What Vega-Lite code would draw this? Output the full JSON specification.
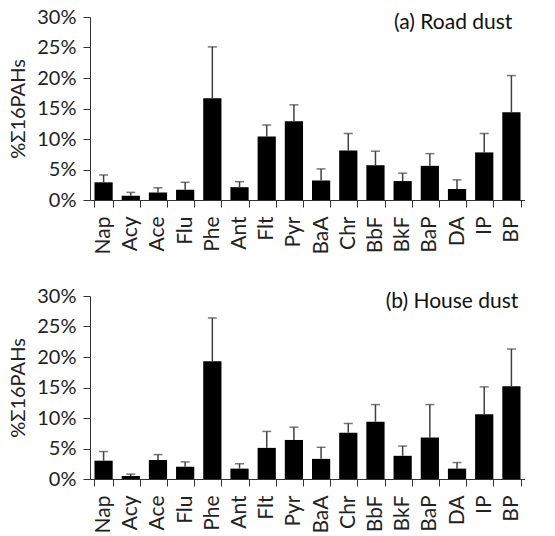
{
  "$schema": "https://vega.github.io/schema/vega-lite/v6.json",
  "padding": {"left": 8, "top": 7, "right": 0, "bottom": 0},
  "background": "white",
  "spacing": 31,
  "datasets": {
    "pahs": [
      {"panel": "a", "compound": "Nap", "value": 2.9, "upper": 4.1},
      {"panel": "a", "compound": "Acy", "value": 0.7, "upper": 1.25},
      {"panel": "a", "compound": "Ace", "value": 1.25, "upper": 2.0},
      {"panel": "a", "compound": "Flu", "value": 1.7, "upper": 2.9},
      {"panel": "a", "compound": "Phe", "value": 16.7, "upper": 25.1},
      {"panel": "a", "compound": "Ant", "value": 2.1, "upper": 3.0},
      {"panel": "a", "compound": "Flt", "value": 10.4, "upper": 12.3},
      {"panel": "a", "compound": "Pyr", "value": 12.9, "upper": 15.6},
      {"panel": "a", "compound": "BaA", "value": 3.2, "upper": 5.1},
      {"panel": "a", "compound": "Chr", "value": 8.1, "upper": 10.9},
      {"panel": "a", "compound": "BbF", "value": 5.7, "upper": 8.0},
      {"panel": "a", "compound": "BkF", "value": 3.1, "upper": 4.4},
      {"panel": "a", "compound": "BaP", "value": 5.6, "upper": 7.6},
      {"panel": "a", "compound": "DA", "value": 1.8, "upper": 3.3},
      {"panel": "a", "compound": "IP", "value": 7.8, "upper": 10.9},
      {"panel": "a", "compound": "BP", "value": 14.4, "upper": 20.4},
      {"panel": "b", "compound": "Nap", "value": 3.0, "upper": 4.5},
      {"panel": "b", "compound": "Acy", "value": 0.5, "upper": 0.8},
      {"panel": "b", "compound": "Ace", "value": 3.1, "upper": 4.0},
      {"panel": "b", "compound": "Flu", "value": 2.0, "upper": 2.8},
      {"panel": "b", "compound": "Phe", "value": 19.3, "upper": 26.4},
      {"panel": "b", "compound": "Ant", "value": 1.7, "upper": 2.5},
      {"panel": "b", "compound": "Flt", "value": 5.1, "upper": 7.8},
      {"panel": "b", "compound": "Pyr", "value": 6.4, "upper": 8.5},
      {"panel": "b", "compound": "BaA", "value": 3.3, "upper": 5.2},
      {"panel": "b", "compound": "Chr", "value": 7.6, "upper": 9.1},
      {"panel": "b", "compound": "BbF", "value": 9.4, "upper": 12.2},
      {"panel": "b", "compound": "BkF", "value": 3.8, "upper": 5.4},
      {"panel": "b", "compound": "BaP", "value": 6.8, "upper": 12.2},
      {"panel": "b", "compound": "DA", "value": 1.7, "upper": 2.7},
      {"panel": "b", "compound": "IP", "value": 10.6, "upper": 15.1},
      {"panel": "b", "compound": "BP", "value": 15.2, "upper": 21.3}
    ]
  },
  "vconcat": [
    {
      "width": 435,
      "height": 183,
      "encoding": {
        "x": {"field": "compound", "type": "nominal", "sort": null,
              "scale": {"paddingInner": 0.33, "paddingOuter": 0.165},
              "axis": {"title": null, "labelAngle": -90, "tickBand": "extent", "labelPadding": 9, "labelFontSize": 21}}
      },
      "layer": [
        {
          "data": {"name": "pahs"},
          "transform": [{"filter": "datum.panel == 'a'"}],
          "mark": {"type": "bar", "color": "black"},
          "encoding": {
            "y": {"field": "value", "type": "quantitative", "scale": {"domain": [0, 30]},
                  "axis": {"title": "%Σ16PAHs", "values": [0, 5, 10, 15, 20, 25, 30], "labelExpr": "datum.value + '%'", "labelOverlap": false}}
          }
        },
        {
          "data": {"name": "pahs"},
          "transform": [{"filter": "datum.panel == 'a'"}],
          "mark": {"type": "rule", "color": "#404040", "strokeWidth": 1.5},
          "encoding": {
            "y": {"field": "value", "type": "quantitative",
                  "axis": {"title": "%Σ16PAHs", "values": [0, 5, 10, 15, 20, 25, 30], "labelExpr": "datum.value + '%'", "labelOverlap": false}},
            "y2": {"field": "upper"}
          }
        },
        {
          "data": {"name": "pahs"},
          "transform": [{"filter": "datum.panel == 'a'"}],
          "mark": {"type": "tick", "orient": "horizontal", "size": 9, "thickness": 1.5, "color": "#404040"},
          "encoding": {
            "y": {"field": "upper", "type": "quantitative",
                  "axis": {"title": "%Σ16PAHs", "values": [0, 5, 10, 15, 20, 25, 30], "labelExpr": "datum.value + '%'", "labelOverlap": false}}
          }
        },
        {
          "data": {"values": [{"label": "(a) Road dust"}]},
          "mark": {"type": "text", "align": "right", "baseline": "middle", "fontSize": 21, "dx": 1, "color": "#111"},
          "encoding": {
            "x": {"datum": "BP"},
            "y": {"datum": 29, "type": "quantitative",
                  "axis": {"title": "%Σ16PAHs", "values": [0, 5, 10, 15, 20, 25, 30], "labelExpr": "datum.value + '%'", "labelOverlap": false}},
            "text": {"field": "label"}
          }
        }
      ]
    },
    {
      "width": 435,
      "height": 183,
      "encoding": {
        "x": {"field": "compound", "type": "nominal", "sort": null,
              "scale": {"paddingInner": 0.33, "paddingOuter": 0.165},
              "axis": {"title": null, "labelAngle": -90, "tickBand": "extent", "labelPadding": 9, "labelFontSize": 21}}
      },
      "layer": [
        {
          "data": {"name": "pahs"},
          "transform": [{"filter": "datum.panel == 'b'"}],
          "mark": {"type": "bar", "color": "black"},
          "encoding": {
            "y": {"field": "value", "type": "quantitative", "scale": {"domain": [0, 30]},
                  "axis": {"title": "%Σ16PAHs", "values": [0, 5, 10, 15, 20, 25, 30], "labelExpr": "datum.value + '%'", "labelOverlap": false}}
          }
        },
        {
          "data": {"name": "pahs"},
          "transform": [{"filter": "datum.panel == 'b'"}],
          "mark": {"type": "rule", "color": "#404040", "strokeWidth": 1.5},
          "encoding": {
            "y": {"field": "value", "type": "quantitative",
                  "axis": {"title": "%Σ16PAHs", "values": [0, 5, 10, 15, 20, 25, 30], "labelExpr": "datum.value + '%'", "labelOverlap": false}},
            "y2": {"field": "upper"}
          }
        },
        {
          "data": {"name": "pahs"},
          "transform": [{"filter": "datum.panel == 'b'"}],
          "mark": {"type": "tick", "orient": "horizontal", "size": 9, "thickness": 1.5, "color": "#404040"},
          "encoding": {
            "y": {"field": "upper", "type": "quantitative",
                  "axis": {"title": "%Σ16PAHs", "values": [0, 5, 10, 15, 20, 25, 30], "labelExpr": "datum.value + '%'", "labelOverlap": false}}
          }
        },
        {
          "data": {"values": [{"label": "(b) House dust"}]},
          "mark": {"type": "text", "align": "right", "baseline": "middle", "fontSize": 21, "dx": 7, "color": "#111"},
          "encoding": {
            "x": {"datum": "BP"},
            "y": {"datum": 29, "type": "quantitative",
                  "axis": {"title": "%Σ16PAHs", "values": [0, 5, 10, 15, 20, 25, 30], "labelExpr": "datum.value + '%'", "labelOverlap": false}},
            "text": {"field": "label"}
          }
        }
      ]
    }
  ],
  "config": {
    "view": {"stroke": null},
    "font": "Lato",
    "axis": {
      "labelFont": "Lato",
      "labelFontSize": 20,
      "labelColor": "#222",
      "titleFont": "Lato",
      "titleFontSize": 20,
      "titleFontWeight": "normal",
      "titleColor": "#222",
      "titlePadding": 8,
      "domainColor": "#333",
      "tickColor": "#333",
      "tickSize": 7,
      "grid": false,
      "labelPadding": 7
    }
  }
}
